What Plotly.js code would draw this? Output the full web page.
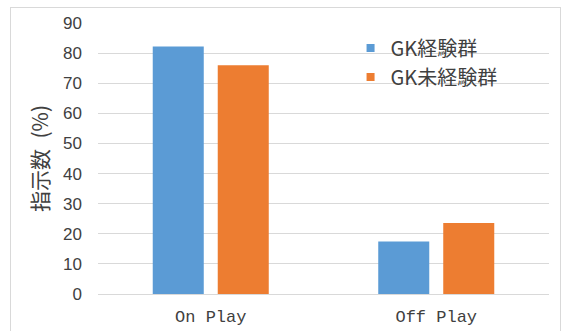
<!DOCTYPE html>
<html><head><meta charset="utf-8">
<script src="https://cdn.plot.ly/plotly-3.0.1.min.js"></script>
<style>
html,body{margin:0;padding:0;background:#fff;}
#frame{position:absolute;left:10px;top:7px;width:549px;height:330px;border:1px solid #d9d9d9;pointer-events:none;z-index:5;}
#chart{position:absolute;left:0;top:0;width:561px;height:331px;}
</style></head>
<body>
<div id="chart"></div><div id="frame"></div>
<script>
const categories = ['On Play', 'Off Play'];
const seriesNames = ['GK経験群', 'GK未経験群'];
const experienced = [82.2, 17.4];
const inexperienced = [76.0, 23.6];
const yTicks = [0, 10, 20, 30, 40, 50, 60, 70, 80, 90];

const colors = ['#5B9BD5', '#ED7D31'];
const traces = [experienced, inexperienced].map((vals, i) => ({
  type: 'bar', x: categories, y: vals, name: seriesNames[i],
  marker: {color: colors[i]}, hoverinfo: 'none', showlegend: false
}));
// legend-only entries with small square symbols
seriesNames.forEach((n, i) => traces.push({
  type: 'scatter', mode: 'markers', x: categories, y: [null, null], name: n,
  marker: {color: colors[i], symbol: 'square', size: 8}, hoverinfo: 'none'
}));

const layout = {
  width: 561, height: 331,
  margin: {l: 98, r: 12, t: 23, b: 37},
  paper_bgcolor: '#fff', plot_bgcolor: '#fff',
  barmode: 'group', bargap: 0.4235, bargroupgap: 0.215,
  font: {family: '"Noto Sans CJK JP", sans-serif', color: '#595959'},
  xaxis: {
    tickfont: {family: '"Liberation Mono", monospace', size: 17, color: '#404040'},
    showline: false, ticks: '', showgrid: false, ticklabelstandoff: 10
  },
  yaxis: {
    range: [0, 90], tickvals: yTicks, ticktext: yTicks.map(String),
    tickfont: {family: '"Liberation Sans Narrow", "Liberation Sans", sans-serif', size: 17, color: '#404040'},
    gridcolor: '#d9d9d9', gridwidth: 1, zeroline: true, zerolinecolor: '#d9d9d9', zerolinewidth: 1,
    ticks: '', ticklabelstandoff: 15,
    title: {text: '指示数\u2002(%)', font: {size: 21, color: '#404040'}, standoff: 8}
  },
  legend: {
    x: 0.56, y: 0.98, xanchor: 'left', yanchor: 'top',
    font: {size: 20, color: '#404040'}, bgcolor: 'rgba(0,0,0,0)', itemwidth: 30
  },
  showlegend: true
};
Plotly.newPlot('chart', traces, layout, {staticPlot: true});
</script>
</body></html>
